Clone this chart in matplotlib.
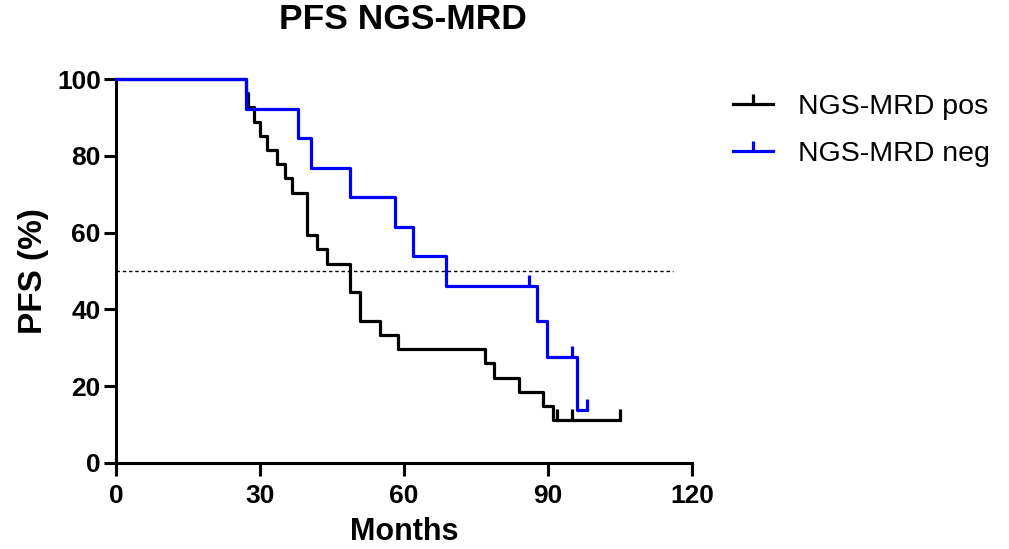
import matplotlib
matplotlib.use('Agg')
from matplotlib import pyplot as plt

# Kaplan-Meier step data (months, PFS %)
pos_times = [0, 27.0, 27.5, 28.75, 29.9, 31.4, 33.5, 35.2, 36.6, 39.7, 41.8, 43.9,
             48.75, 50.8, 55.0, 58.8, 76.9, 78.75, 84.0, 89.0, 91.1, 105.0]
pos_surv = [100, 96.3, 92.6, 88.9, 85.2, 81.5, 77.8, 74.1, 70.4, 59.3, 55.6, 51.9,
            44.4, 37.0, 33.3, 29.6, 25.9, 22.2, 18.5, 14.8, 11.1, 11.1]
pos_cens_t = [91.8, 94.9, 105.0]
pos_cens_s = [11.1, 11.1, 11.1]

neg_times = [0, 27.0, 38.0, 40.7, 48.75, 58.0, 61.8, 68.75, 87.6, 89.7, 96.0, 98.0]
neg_surv = [100, 92.3, 84.6, 76.9, 69.2, 61.5, 53.8, 46.2, 36.9, 27.7, 13.8, 13.8]
neg_cens_t = [86.0, 94.9, 98.0]
neg_cens_s = [46.2, 27.7, 13.8]

median_line = 50
xticks = [0, 30, 60, 90, 120]
yticks = [0, 20, 40, 60, 80, 100]

plt.rcParams['font.family'] = ['Liberation Sans', 'DejaVu Sans']

fig = plt.figure(figsize=(10.09, 5.49), dpi=100)
ax = fig.add_axes([0.115, 0.157, 0.571, 0.699])

# 50% reference line
ax.plot([0, 116], [median_line, median_line], color='black', lw=1.0,
        linestyle=(0, (2.5, 2)), zorder=1)

# survival curves
ax.step(pos_times, pos_surv, where='post', color='black', lw=2.3, clip_on=False, zorder=3)
ax.step(neg_times, neg_surv, where='post', color='#0000ff', lw=2.3, clip_on=False, zorder=4)
ax.plot(pos_cens_t, pos_cens_s, linestyle='none', marker=2, markersize=8, mew=2.3,
        color='black', clip_on=False, zorder=3)
ax.plot(neg_cens_t, neg_cens_s, linestyle='none', marker=2, markersize=8, mew=2.3,
        color='#0000ff', clip_on=False, zorder=4)

# legend proxies
h1, = ax.plot([], [], color='black', lw=2.3, marker=2, markersize=7, mew=2.3)
h2, = ax.plot([], [], color='#0000ff', lw=2.3, marker=2, markersize=7, mew=2.3)
fig.legend([h1, h2], ['NGS-MRD pos', 'NGS-MRD neg'], loc='upper left',
           bbox_to_anchor=(0.7007, 0.875), frameon=False, fontsize=20.5,
           handlelength=1.42, handletextpad=0.88, labelspacing=0.72, numpoints=1)

ax.set_xlim(0, 120)
ax.set_ylim(0, 100)
ax.set_xticks(xticks)
ax.set_yticks(yticks)
for lab in ax.get_xticklabels() + ax.get_yticklabels():
    lab.set_fontweight('bold')
ax.tick_params(axis='both', labelsize=19, width=2.2, length=9, direction='out')
ax.tick_params(axis='x', pad=6)
ax.tick_params(axis='y', pad=2)

for s in ['top', 'right']:
    ax.spines[s].set_visible(False)
for s in ['left', 'bottom']:
    ax.spines[s].set_linewidth(2.2)

ax.set_xlabel('Months', fontsize=22, fontweight='bold', labelpad=7)
ax.set_ylabel('PFS (%)', fontsize=24, fontweight='bold', labelpad=6)
fig.suptitle('PFS NGS-MRD', fontsize=25.5, fontweight='bold', x=0.399, y=0.995)

fig.savefig('out.png', dpi=100)
